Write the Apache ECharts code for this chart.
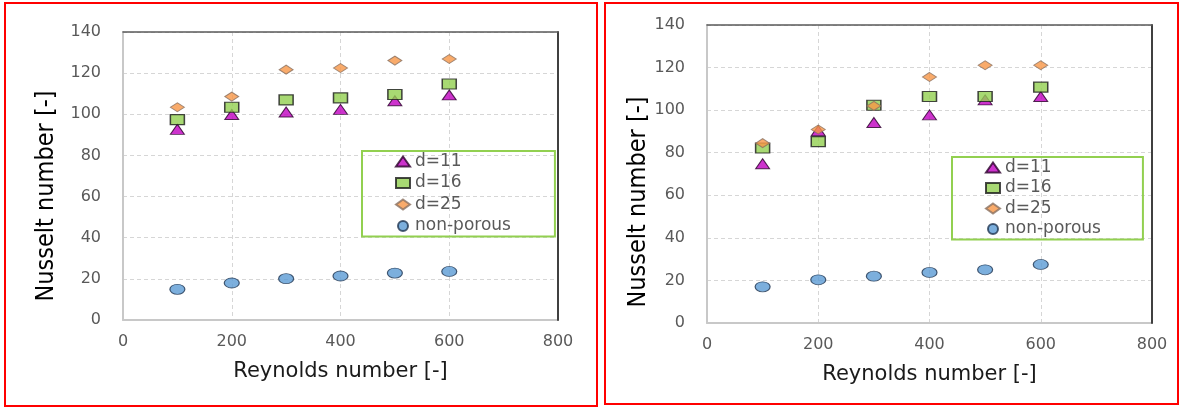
<!DOCTYPE html>
<html>
<head>
<meta charset="utf-8">
<script src="https://cdn.jsdelivr.net/npm/echarts@6/dist/echarts.min.js"></script>
<style>
html,body{margin:0;padding:0;background:#fff;}
#c{width:1181px;height:410px;}
</style>
</head>
<body>
<div id="c"></div>
<script>
// ---- data ----
const reynolds = [100, 200, 300, 400, 500, 600];
const seriesNames = ['d=11', 'd=16', 'd=25', 'non-porous'];
const xTicks = [0, 200, 400, 600, 800];
const yTicks = [0, 20, 40, 60, 80, 100, 120, 140];

// left panel
const leftD11 = [92.7, 99.9, 101.1, 102.4, 106.6, 109.4];
const leftD16 = [97.4, 103.4, 107.0, 108.0, 109.6, 114.7];
const leftD25 = [103.4, 108.6, 121.7, 122.5, 126.1, 126.9];
const leftNonPorous = [14.9, 18.0, 20.1, 21.4, 22.8, 23.6];

// right panel
const rightD11 = [74.8, 90.3, 94.2, 97.8, 104.8, 106.4];
const rightD16 = [82.2, 85.2, 102.3, 106.4, 106.4, 110.8];
const rightD25 = [84.5, 90.9, 102.0, 115.6, 121.1, 121.1];
const rightNonPorous = [17.0, 20.3, 22.0, 23.75, 25.0, 27.5];

// ---- styles ----
const tickFont = "'DejaVu Sans', sans-serif";
const narrowFont = "'Liberation Sans Narrow', 'DejaVu Sans Condensed', 'Liberation Sans', sans-serif";
const styles = {
  'd=11': {symbol: 'triangle', symbolSize: [14, 10], itemStyle: {color: '#c000c0', borderColor: '#2a002a', borderWidth: 1}},
  'd=16': {symbol: 'rect', symbolSize: [14, 10], itemStyle: {color: '#92d050', borderColor: '#1a1a1a', borderWidth: 1.3}},
  'd=25': {symbol: 'diamond', symbolSize: [14, 9], itemStyle: {color: '#f79646', borderColor: '#8a7060', borderWidth: 1}},
  'non-porous': {symbol: 'circle', symbolSize: [15, 10], itemStyle: {color: '#5b9bd5', borderColor: '#1f3550', borderWidth: 1}}
};

function pairs(ys) { return reynolds.map((x, i) => [x, ys[i]]); }

function makeSeries(idx, arrs) {
  return seriesNames.map((n, k) => Object.assign({
    type: 'scatter', name: n, xAxisIndex: idx, yAxisIndex: idx,
    data: pairs(arrs[k]), z: 3 + k
  }, styles[n]));
}

function xAxisCfg(idx) {
  return {
    type: 'value', gridIndex: idx, position: 'bottom', min: 0, max: 800, interval: 200,
    name: 'Reynolds number [-]', nameLocation: 'middle', nameGap: 41,
    nameTextStyle: {fontFamily: tickFont, fontSize: 21, color: '#1a1a1a'},
    axisLine: {show: true, onZero: false, lineStyle: {color: '#c8c8c8', width: 2}},
    axisTick: {show: false},
    axisLabel: {margin: 14, fontFamily: tickFont, fontSize: 16, color: '#595959',
      formatter: v => xTicks.indexOf(v) >= 0 ? String(v) : ''},
    splitLine: {show: true, lineStyle: {color: '#d6d6d6', type: [4, 3], width: 1}}
  };
}
function yAxisCfg(idx, gap, shift) {
  return {
    type: 'value', gridIndex: idx, position: 'left', min: 0, max: 140, interval: 20,
    name: 'Nusselt number [-]', nameLocation: 'middle', nameGap: gap,
    nameTextStyle: {fontFamily: narrowFont, fontSize: 25, color: '#000', padding: [0, shift * 2, 0, 0]},
    axisLine: {show: true, onZero: false, lineStyle: {color: '#c8c8c8', width: 2}},
    axisTick: {show: false},
    axisLabel: {margin: 22, fontFamily: tickFont, fontSize: 16, color: '#595959',
      formatter: v => yTicks.indexOf(v) >= 0 ? String(v) : ''},
    splitLine: {show: true, lineStyle: {color: '#d6d6d6', type: [4, 3], width: 1}}
  };
}
// frame lines (top / right edges of the plot area)
function topAxis(idx) {
  return {type: 'value', gridIndex: idx, position: 'top', min: 0, max: 800, interval: 200,
    axisLine: {show: true, onZero: false, lineStyle: {color: '#595959', width: 1.5}}, z: 10,
    axisTick: {show: false}, axisLabel: {show: false}, splitLine: {show: false}};
}
function rightAxis(idx) {
  return {type: 'value', gridIndex: idx, position: 'right', min: 0, max: 140, interval: 20,
    axisLine: {show: true, onZero: false, lineStyle: {color: '#404040', width: 2}}, z: 10,
    axisTick: {show: false}, axisLabel: {show: false}, splitLine: {show: false}};
}
function legendCfg(left, top, gap, padRight) {
  return {
    data: seriesNames, orient: 'vertical', left: left, top: top,
    itemWidth: 14, itemHeight: 10, itemGap: gap,
    padding: [2, padRight, 2, 33],
    borderColor: '#92d050', borderWidth: 2,
    textStyle: {fontFamily: tickFont, fontSize: 17, color: '#595959'}
  };
}

const chart = echarts.init(document.getElementById('c'), null, {renderer: 'canvas'});
chart.setOption({
  animation: false,
  backgroundColor: '#fff',
  grid: [
    {left: 123, top: 32, width: 435, height: 288, show: false},
    {left: 707, top: 25, width: 445, height: 298, show: false}
  ],
  xAxis: [xAxisCfg(0), xAxisCfg(1), topAxis(0), topAxis(1)],
  yAxis: [yAxisCfg(0, 64, 20), yAxisCfg(1, 54, 28), rightAxis(0), rightAxis(1)],
  legend: [legendCfg(362, 151, 4.5, 44), legendCfg(952, 157, 3.5, 42)],
  series: makeSeries(0, [leftD11, leftD16, leftD25, leftNonPorous])
    .concat(makeSeries(1, [rightD11, rightD16, rightD25, rightNonPorous])),
  graphic: [
    {type: 'rect', silent: true, z: 100, shape: {x: 5, y: 3, width: 592, height: 403}, style: {fill: 'none', stroke: '#ff0000', lineWidth: 2}},
    {type: 'rect', silent: true, z: 100, shape: {x: 605, y: 3, width: 573, height: 401}, style: {fill: 'none', stroke: '#ff0000', lineWidth: 2}}
  ]
});
</script>
</body>
</html>
